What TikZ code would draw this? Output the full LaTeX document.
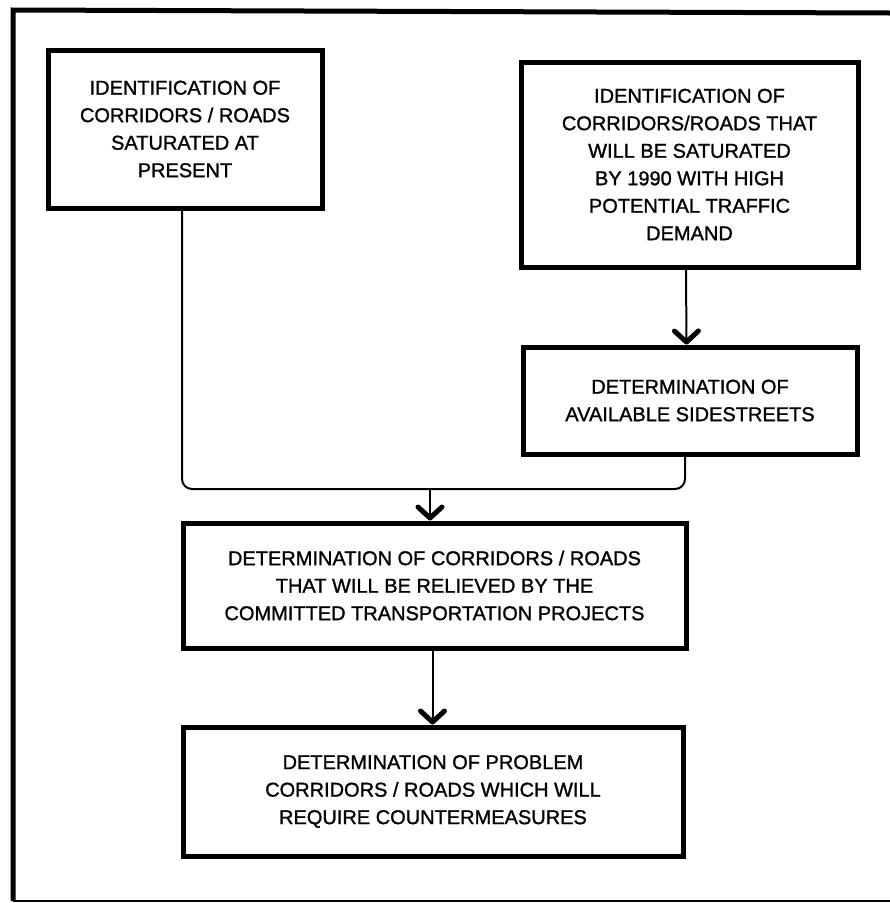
\documentclass[tikz,border=0pt]{standalone}
\usepackage{fontspec}
\setmainfont{Liberation Sans}[FakeBold=1.2]
\usetikzlibrary{arrows.meta}
\begin{document}
\begin{tikzpicture}[x=1pt,y=-1pt,
  box/.style={draw,line width=5pt,inner sep=0pt,align=center,
    font=\fontsize{20}{27.5}\selectfont},
  conn/.style={line width=2pt},
  arr/.style={line width=2pt,-{Straight Barb[length=11pt,width=24pt,line width=5pt,round]}},
  frame/.style={line width=5pt}]
\useasboundingbox (0,0) rectangle (890,903);
% outer frame
\draw[frame] (890,13) -- (13,10) -- (13,901);
\draw[line width=1.5pt] (13,901) -- (890,901);
% boxes
\node[box,minimum width=274pt,minimum height=158pt] (b1) at (185,129)
  {IDENTIFICATION OF\\CORRIDORS / ROADS\\SATURATED AT\\PRESENT};
\node[box,minimum width=337pt,minimum height=205pt] (b2) at (689.5,164.5)
  {IDENTIFICATION OF\\CORRIDORS/ROADS THAT\\WILL BE SATURATED\\BY 1990 WITH HIGH\\POTENTIAL TRAFFIC\\DEMAND};
\node[box,minimum width=334pt,minimum height=107pt] (b3) at (690,400.5)
  {DETERMINATION OF\\AVAILABLE SIDESTREETS};
\node[box,minimum width=503pt,minimum height=125pt] (b4) at (434.5,585.5)
  {DETERMINATION OF CORRIDORS / ROADS\\THAT WILL BE RELIEVED BY THE\\COMMITTED TRANSPORTATION PROJECTS};
\node[box,minimum width=500pt,minimum height=129pt] (b5) at (433,791.5)
  {DETERMINATION OF PROBLEM\\CORRIDORS / ROADS WHICH WILL\\REQUIRE COUNTERMEASURES};
% connectors
\coordinate (j) at (430,489);
\draw[arr] ([xshift=-3.5pt]b2.south) -- ([xshift=-3.5pt]b3.north);
\draw[conn,rounded corners=10pt] ([xshift=-3pt]b1.south) |- (j) -| ([xshift=-5pt]b3.south);
\draw[arr] (j) -- (j |- b4.north);
\draw[arr] ([xshift=-2pt]b4.south) -- ([xshift=-2pt]b4.south |- b5.north);
\end{tikzpicture}
\end{document}
